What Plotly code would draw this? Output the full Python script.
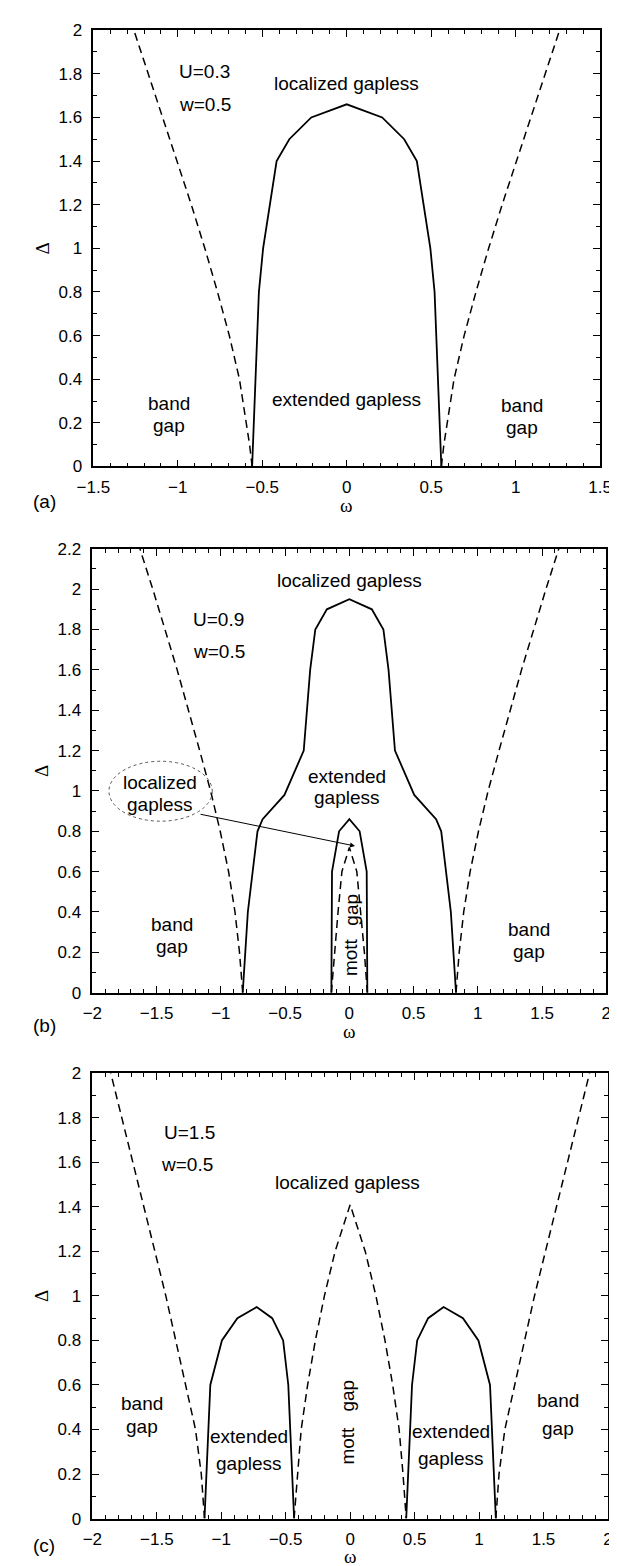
import plotly.graph_objects as go

# ---------------- Panel (a): U=0.3 ----------------
a_solid_w = [-0.56, -0.52, -0.495, -0.415, -0.34, -0.21, 0.0, 0.21, 0.34, 0.415, 0.495, 0.52, 0.56]
a_solid_d = [0.0, 0.8, 1.0, 1.4, 1.5, 1.6, 1.66, 1.6, 1.5, 1.4, 1.0, 0.8, 0.0]
a_dash_d = [0.0, 0.1, 0.2, 0.4, 0.6, 0.8, 1.0, 1.2, 1.4, 1.6, 1.8, 2.0]
a_dash_left_w = [-0.56, -0.575, -0.595, -0.635, -0.695, -0.765, -0.84, -0.92, -1.005, -1.09, -1.175, -1.26]
a_dash_right_w = [0.56, 0.575, 0.595, 0.635, 0.695, 0.765, 0.84, 0.92, 1.005, 1.09, 1.175, 1.26]

# ---------------- Panel (b): U=0.9 ----------------
b_outer_w = [-0.83, -0.79, -0.715, -0.675, -0.505, -0.355, -0.305, -0.265, -0.175, 0.0,
             0.175, 0.265, 0.305, 0.355, 0.505, 0.675, 0.715, 0.79, 0.83]
b_outer_d = [0.0, 0.4, 0.8, 0.86, 0.98, 1.2, 1.6, 1.8, 1.9, 1.95,
             1.9, 1.8, 1.6, 1.2, 0.98, 0.86, 0.8, 0.4, 0.0]
b_inner_w = [-0.14, -0.135, -0.08, 0.0, 0.08, 0.135, 0.14]
b_inner_d = [0.0, 0.6, 0.8, 0.86, 0.8, 0.6, 0.0]
b_mott_w = [-0.14, -0.115, -0.088, -0.058, 0.0, 0.058, 0.09, 0.117, 0.14]
b_mott_d = [0.0, 0.2, 0.4, 0.6, 0.72, 0.6, 0.4, 0.2, 0.0]
b_dash_d = [0.0, 0.2, 0.4, 0.6, 0.8, 1.0, 1.2, 1.6, 2.0, 2.2]
b_dash_left_w = [-0.83, -0.855, -0.89, -0.94, -1.005, -1.08, -1.165, -1.34, -1.53, -1.63]
b_dash_right_w = [0.83, 0.855, 0.89, 0.94, 1.005, 1.08, 1.165, 1.34, 1.53, 1.63]

# ---------------- Panel (c): U=1.5 ----------------
c_dome_d = [0.0, 0.6, 0.8, 0.9, 0.95, 0.9, 0.8, 0.6, 0.0]
c_dome_left_w = [-1.13, -1.085, -0.995, -0.875, -0.725, -0.605, -0.52, -0.48, -0.435]
c_dome_right_w = [0.435, 0.48, 0.52, 0.605, 0.725, 0.875, 0.995, 1.085, 1.13]
c_dash_d = [0.0, 0.2, 0.4, 0.6, 0.8, 1.0, 1.2, 1.4, 1.8, 2.0]
c_dash_left_w = [-1.13, -1.155, -1.2, -1.275, -1.35, -1.43, -1.515, -1.6, -1.77, -1.857]
c_dash_right_w = [1.13, 1.155, 1.2, 1.275, 1.35, 1.43, 1.515, 1.6, 1.77, 1.857]
c_mott_w = [-0.435, -0.41, -0.38, -0.33, -0.27, -0.2, -0.117, 0.0, 0.117, 0.2, 0.27, 0.33, 0.38, 0.41, 0.435]
c_mott_d = [0.0, 0.2, 0.4, 0.6, 0.8, 1.0, 1.2, 1.41, 1.2, 1.0, 0.8, 0.6, 0.4, 0.2, 0.0]

W, H = 617, 1566
FONT = "Liberation Sans, Arial, Helvetica, sans-serif"
SERIF = "Liberation Serif, Times New Roman, serif"
FS_TICK = 17
FS_TXT = 19

fig = go.Figure()

SOLID = dict(color="black", width=1.8)
DASH = dict(color="black", width=1.5, dash="8px,5px")

def add(x, y, ax, line):
    fig.add_trace(go.Scatter(x=x, y=y, mode="lines", line=line, xaxis=ax[0], yaxis=ax[1],
                             showlegend=False, hoverinfo="skip"))

add(a_solid_w, a_solid_d, ("x", "y"), SOLID)
add(a_dash_left_w, a_dash_d, ("x", "y"), DASH)
add(a_dash_right_w, a_dash_d, ("x", "y"), DASH)

add(b_outer_w, b_outer_d, ("x2", "y2"), SOLID)
add(b_inner_w, b_inner_d, ("x2", "y2"), SOLID)
add(b_mott_w, b_mott_d, ("x2", "y2"), DASH)
add(b_dash_left_w, b_dash_d, ("x2", "y2"), DASH)
add(b_dash_right_w, b_dash_d, ("x2", "y2"), DASH)

add(c_dome_left_w, c_dome_d, ("x3", "y3"), SOLID)
add(c_dome_right_w, c_dome_d, ("x3", "y3"), SOLID)
add(c_dash_left_w, c_dash_d, ("x3", "y3"), DASH)
add(c_dash_right_w, c_dash_d, ("x3", "y3"), DASH)
add(c_mott_w, c_mott_d, ("x3", "y3"), DASH)

def px_x(p):
    return p / W

def px_y(p):
    return 1 - p / H

# plot-area pixel boxes (left, right, top, bottom)
boxes = {
    "a": (71.7, 603.5, 13.3, 455.0),
    "b": (70.7, 610.0, 538.3, 987.7),
    "c": (70.7, 611.7, 1069.3, 1520.0),
}

def axis_common(rng, dtick, minor_dtick):
    return dict(
        range=rng, dtick=dtick, tick0=0, showgrid=False, zeroline=False,
        showline=True, linecolor="black", linewidth=1.5, mirror="allticks",
        ticks="inside", ticklen=7, tickwidth=1.2, tickcolor="black",
        minor=dict(dtick=minor_dtick, tick0=0, ticks="inside", ticklen=4,
                   tickwidth=1, tickcolor="black", showgrid=False),
        tickfont=dict(family=FONT, size=FS_TICK, color="black"),
        ticklabeloverflow="allow",
    )

layout = dict(width=W, height=H, margin=dict(l=0, r=0, t=0, b=0),
              paper_bgcolor="white", plot_bgcolor="white", showlegend=False)

specs = [("a", "", [-1.5, 1.5], [0, 2]), ("b", "2", [-2, 2], [0, 2.2]), ("c", "3", [-2, 2], [0, 2])]
for key, n, xr, yr in specs:
    l, r, t, b = boxes[key]
    xa = axis_common(xr, 0.5, 0.1)
    xa.update(domain=[px_x(l), px_x(r)], anchor="y" + n, ticklabelstandoff=4)
    ya = axis_common(yr, 0.2, 0.1)
    ya.update(domain=[px_y(b), px_y(t)], anchor="x" + n, ticklabelstandoff=6)
    layout["xaxis" + n] = xa
    layout["yaxis" + n] = ya

fig.update_layout(**layout)

ann = []

def txt(text, x, y, n, angle=0):
    ann.append(dict(text=text, x=x, y=y, xref="x" + n, yref="y" + n, showarrow=False,
                    font=dict(family=FONT, size=FS_TXT, color="black"), textangle=angle,
                    xanchor="center", yanchor="middle"))

# panel (a) texts
txt("U=0.3", -0.84, 1.81, "")
txt("w=0.5", -0.84, 1.66, "")
txt("localized gapless", 0.0, 1.755, "")
txt("extended gapless", 0.0, 0.305, "")
txt("band", -1.05, 0.29, "")
txt("gap", -1.05, 0.19, "")
txt("band", 1.04, 0.28, "")
txt("gap", 1.04, 0.18, "")

# panel (b) texts
txt("localized gapless", 0.0, 2.045, "2")
txt("U=0.9", -1.015, 1.847, "2")
txt("w=0.5", -1.015, 1.69, "2")
txt("extended", -0.02, 1.07, "2")
txt("gapless", -0.02, 0.965, "2")
txt("band", -1.38, 0.34, "2")
txt("gap", -1.38, 0.23, "2")
txt("band", 1.40, 0.315, "2")
txt("gap", 1.40, 0.205, "2")
txt("localized", -1.477, 1.04, "2")
txt("gapless", -1.477, 0.935, "2")
txt("mott", 0.015, 0.178, "2", angle=-90)
txt("gap", 0.015, 0.413, "2", angle=-90)

# panel (c) texts
txt("U=1.5", -1.25, 1.733, "3")
txt("w=0.5", -1.264, 1.592, "3")
txt("localized gapless", -0.02, 1.51, "3")
txt("band", -1.615, 0.515, "3")
txt("gap", -1.615, 0.415, "3")
txt("band", 1.61, 0.53, "3")
txt("gap", 1.61, 0.405, "3")
txt("extended", -0.782, 0.367, "3")
txt("gapless", -0.782, 0.248, "3")
txt("extended", 0.78, 0.389, "3")
txt("gapless", 0.78, 0.27, "3")
txt("mott", -0.018, 0.327, "3", angle=-90)
txt("gap", -0.018, 0.552, "3", angle=-90)

# arrow in panel (b)
ann.append(dict(x=0.044, y=0.727, xref="x2", yref="y2", ax=-1.17, ay=0.886, axref="x2", ayref="y2",
                text="", showarrow=True, arrowhead=2, arrowsize=1, arrowwidth=1, arrowcolor="black"))

# axis titles and panel labels (paper coords)
for key, lab, lab_y, om_y in [("a", "(a)", 490, 494), ("b", "(b)", 1021, 1027), ("c", "(c)", 1547, 1558)]:
    l, r, t, b = boxes[key]
    ann.append(dict(text=lab, x=px_x(20), y=px_y(lab_y), xref="paper", yref="paper", showarrow=False,
                    font=dict(family=FONT, size=FS_TXT, color="black"), xanchor="center", yanchor="middle"))
    ann.append(dict(text="ω", x=px_x((l + r) / 2), y=px_y(om_y), xref="paper", yref="paper", showarrow=False,
                    font=dict(family=SERIF, size=FS_TXT, color="black"), xanchor="center", yanchor="middle"))
    ann.append(dict(text="Δ", x=px_x(18), y=px_y((t + b) / 2), xref="paper", yref="paper", showarrow=False,
                    font=dict(family=SERIF, size=FS_TXT, color="black"), textangle=-90,
                    xanchor="center", yanchor="middle"))

fig.update_layout(annotations=ann)

# ellipse around "localized gapless" in panel (b)
fig.add_shape(type="circle", xref="x2", yref="y2", x0=-1.871, x1=-1.067, y0=0.85, y1=1.147,
              line=dict(color="#555555", width=1, dash="dot"))

fig.write_html("out.html")
